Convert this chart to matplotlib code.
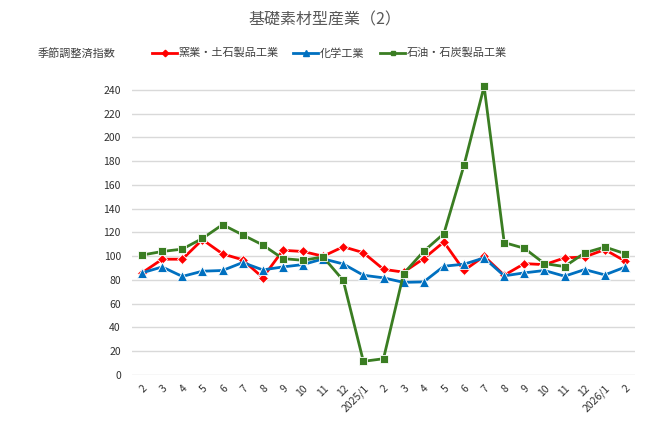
import matplotlib
matplotlib.use("Agg")
import matplotlib.pyplot as plt
from matplotlib.lines import Line2D

plt.rcParams['font.family'] = ['Noto Sans CJK JP', 'DejaVu Sans']

categories = ["2", "3", "4", "5", "6", "7", "8", "9", "10", "11", "12", "2025/1",
              "2", "3", "4", "5", "6", "7", "8", "9", "10", "11", "12", "2026/1", "2"]

ceramics = [86, 97.5, 97.5, 114, 102, 97, 82, 105, 104, 100, 108, 103,
            89, 86.6, 98, 112, 88, 100, 84, 93.8, 92.9, 98.6, 99.4, 105.6, 96]
chemical = [86, 91, 83, 87.4, 88, 94.7, 88.5, 91, 93, 97.8, 93.5, 84,
            81.8, 78, 78.4, 91.6, 93.3, 98.6, 83.5, 86, 88, 83.2, 88.8, 84.3, 90.8]
petroleum = [101, 104, 106, 115, 126.6, 118, 109.5, 98, 96.6, 99.4, 79.6, 11.5,
             13.7, 85.4, 104.2, 119, 176.5, 243, 111.5, 106.7, 93.8, 91.3, 102.8, 107.8, 102.2]

series_names = ["窯業・土石製品工業", "化学工業", "石油・石炭製品工業"]
colors = ["#FF0000", "#0070C0", "#3A7D22"]
markers = ["D", "^", "s"]
msizes = [5.5, 7, 5.5]

W, H = 650, 421
fig = plt.figure(figsize=(W / 100, H / 100), dpi=100)
left, right, top, bottom = 132, 635, 78.1, 375
ax = fig.add_axes([left / W, 1 - bottom / H, (right - left) / W, (bottom - top) / H])

x = list(range(len(categories)))
for vals, c, m, ms in zip([ceramics, chemical, petroleum], colors, markers, msizes):
    ax.plot(x, vals, color=c, lw=2, marker=m, markersize=ms,
            markerfacecolor=c, markeredgecolor="white", markeredgewidth=0.6, zorder=3)

ax.set_xlim(-0.5, len(categories) - 0.5)
ax.set_ylim(0, 250)
ax.set_yticks(range(0, 241, 20))
ax.yaxis.grid(True, color="#D9D9D9", lw=1)
ax.set_axisbelow(True)
for s in ax.spines.values():
    s.set_visible(False)
ax.tick_params(axis="both", length=0, labelsize=7.5, colors="#303030")
ax.tick_params(axis="y", pad=8)
ax.set_xticks(x)
ax.set_xticklabels(categories, rotation=45, ha="right", va="top", rotation_mode="anchor")
ax.tick_params(axis="x", pad=6)

fig.text(325 / W, 1 - 20 / H, "基礎素材型産業（2）", ha="center", va="center",
         fontsize=11.5, color="#595959")
fig.text(38 / W, 1 - 53 / H, "季節調整済指数", ha="left", va="center",
         fontsize=8, color="#404040")

legend_items = [(152, 177, 178), (293, 318, 320), (380, 405, 407)]
for (x0, x1, tx), name, c, m, ms in zip(legend_items, series_names, colors, markers, msizes):
    yy = 1 - 53 / H
    fig.add_artist(Line2D([x0 / W, x1 / W], [yy, yy], color=c, lw=2,
                          transform=fig.transFigure))
    fig.add_artist(Line2D([(x0 + x1) / 2 / W], [yy], color=c, marker=m,
                          markersize=ms * 0.6, transform=fig.transFigure))
    fig.text(tx / W, yy, name, ha="left", va="center", fontsize=8, color="#404040")

fig.savefig("out.png", dpi=100)
